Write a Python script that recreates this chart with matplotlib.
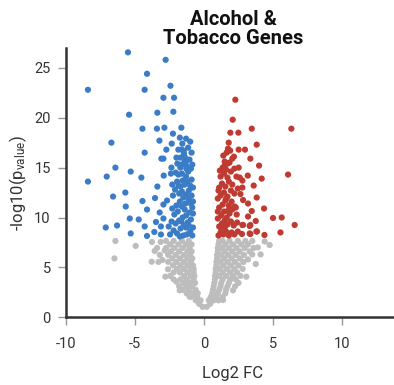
import matplotlib
matplotlib.use("Agg")
import matplotlib.pyplot as plt
import numpy as np

plt.rcParams['font.family'] = ['Roboto', 'DejaVu Sans']
plt.rcParams['mathtext.default'] = 'regular'

title = "Alcohol &\nTobacco Genes"
x_label = "Log2 FC"
y_label = r"-log10(p$_{value}$)"
x_ticks = [-10, -5, 0, 5, 10]
y_ticks = [0, 5, 10, 15, 20, 25]

# Down-regulated (significant) genes: (log2FC, -log10 p)
blue_pts = [
    (-5.51, 26.55), (-2.78, 25.8), (-4.13, 24.4), (-8.41, 22.8), (-2.43, 23.2), (-4.30, 22.8),
    (-2.94, 22.0), (-2.17, 22.0), (-3.38, 20.5), (-2.22, 20.6), (-5.43, 20.3), (-4.46, 18.9),
    (-3.41, 18.9), (-2.87, 19.0), (-1.64, 19.0), (-2.25, 18.4), (-6.71, 17.5), (-3.23, 17.7),
    (-2.34, 17.4), (-1.57, 17.4), (-2.73, 16.8), (-1.86, 16.8), (-1.62, 16.8), (-1.47, 16.7),
    (-4.30, 16.5), (-1.45, 16.4), (-3.09, 15.9), (-2.94, 15.9), (-2.0, 16.0), (-1.71, 16.0),
    (-1.37, 16.0), (-1.28, 15.7), (-1.93, 15.4), (-1.62, 15.3), (-1.28, 15.2), (-6.42, 15.0),
    (-5.31, 14.6), (-2.36, 15.0), (-1.71, 15.0), (-1.28, 14.9), (-7.05, 14.1), (-4.54, 14.0),
    (-2.92, 14.2), (-2.4, 14.4), (-1.85, 14.3), (-1.6, 14.4), (-1.3, 14.1),
    (-8.41, 13.6), (-6.59, 12.1), (-5.70, 12.5), (-3.38, 13.1), (-4.46, 11.65), (-3.55, 11.95),
    (-5.67, 11.1), (-4.13, 10.8), (-2.94, 11.3), (-2.68, 11.7), (-3.21, 10.5), (-5.38, 9.9),
    (-4.73, 9.8), (-3.48, 9.55), (-2.94, 9.9), (-7.12, 9.0), (-6.30, 9.2), (-4.30, 9.1),
    (-3.12, 9.1), (-2.56, 9.1), (-5.31, 8.4), (-4.13, 8.15), (-3.60, 8.55), (-3.12, 8.3),
    (-2.46, 8.3),
    (-2.3, 13.3), (-2.1, 12.8), (-2.25, 12.2), (-1.95, 13.6), (-1.8, 12.4), (-1.7, 13.1),
    (-1.55, 13.7), (-1.4, 13.3), (-1.2, 13.6), (-1.0, 13.2), (-0.9, 13.8), (-1.1, 12.7),
    (-1.3, 12.3), (-1.5, 12.0), (-1.75, 11.6), (-2.0, 11.2), (-2.3, 10.9), (-2.15, 10.3),
    (-1.9, 10.6), (-1.6, 11.1), (-1.35, 11.4), (-1.1, 11.8), (-0.9, 12.2), (-0.85, 11.0),
    (-1.05, 10.5), (-1.3, 10.2), (-1.55, 10.0), (-1.8, 9.7), (-2.05, 9.4), (-2.35, 9.6),
    (-2.2, 8.7), (-1.95, 8.4), (-1.7, 8.9), (-1.45, 9.2), (-1.2, 9.5), (-0.95, 9.8),
    (-0.8, 9.0), (-1.0, 8.6), (-1.25, 8.3), (-1.5, 8.2), (-1.75, 8.1), (-0.85, 8.2),
    (-1.15, 14.6), (-0.95, 14.9), (-1.05, 15.8), (-0.9, 16.5), (-1.15, 17.0), (-1.0, 17.6),
    (-1.3, 17.9), (-1.75, 18.0), (-0.85, 15.3), (-1.4, 15.6), (-0.8, 13.0), (-0.8, 10.4),
    (-0.8, 11.6), (-1.65, 9.6), (-1.4, 10.8), (-1.85, 13.2), (-2.05, 14.5), (-1.15, 12.0),
    (-1.6, 12.6), (-0.95, 11.4), (-1.3, 9.0), (-1.1, 9.2),
]

# Up-regulated (significant) genes
red_pts = [
    (2.27, 21.8), (2.08, 19.8), (1.91, 18.5), (2.49, 18.5), (3.46, 18.9), (6.33, 18.9),
    (1.79, 17.5), (3.82, 17.3), (1.74, 16.9), (2.51, 16.8), (2.97, 16.8), (1.64, 16.5),
    (2.17, 16.1), (3.36, 15.9), (1.5, 15.6), (1.7, 15.4), (1.5, 15.2), (3.99, 15.2),
    (2.51, 15.0), (6.09, 14.3), (3.17, 14.2), (4.18, 13.9), (2.59, 14.0), (2.78, 13.7),
    (3.60, 13.2), (3.82, 12.0), (2.83, 11.75), (3.19, 11.4), (4.35, 10.9), (3.46, 10.65),
    (5.0, 9.95), (5.63, 10.0), (6.57, 9.25), (5.54, 8.5), (4.38, 8.25), (3.80, 8.6),
    (3.36, 8.35), (2.75, 8.35), (3.36, 9.25), (3.75, 9.65), (2.83, 9.25), (3.19, 10.1),
    (2.64, 12.35), (2.78, 13.0), (2.22, 11.1), (2.37, 10.3), (3.31, 8.4), (3.84, 8.6),
    (2.78, 9.25), (3.31, 9.15),
    (1.05, 8.2), (1.2, 8.5), (1.4, 8.3), (1.6, 8.6), (1.8, 8.2), (2.0, 8.5), (2.2, 8.3),
    (2.45, 8.6), (1.1, 9.1), (1.3, 9.4), (1.5, 9.0), (1.7, 9.3), (1.95, 9.6), (2.15, 9.2),
    (2.4, 9.5), (1.0, 9.9), (1.25, 10.2), (1.45, 10.6), (1.65, 10.0), (1.85, 10.4),
    (2.05, 10.8), (1.1, 11.0), (1.35, 11.3), (1.55, 11.7), (1.8, 11.2), (2.0, 11.6),
    (1.0, 11.9), (1.2, 12.2), (1.45, 12.5), (1.7, 12.1), (1.95, 12.7), (2.2, 12.4),
    (1.1, 13.0), (1.3, 13.4), (1.55, 13.1), (1.8, 13.6), (2.05, 13.3), (1.2, 14.1),
    (1.45, 14.4), (1.7, 14.0), (1.95, 14.6), (2.2, 14.9), (1.35, 15.0), (1.6, 14.8),
    (1.85, 15.5), (2.05, 15.9), (1.4, 16.2), (1.9, 16.7), (1.0, 10.6), (1.05, 12.7),
    (1.15, 14.7), (1.25, 8.9), (1.5, 9.7), (1.75, 10.7), (2.3, 11.0), (2.45, 12.9),
    (2.35, 14.1), (1.6, 11.9),
]

# Non-significant genes
gray_pts = [
    (-6.42, 7.65), (-4.95, 7.15), (-6.49, 5.9), (-3.77, 7.55), (-3.14, 7.55), (-3.57, 6.65),
    (-3.79, 5.57), (-3.01, 5.74), (-2.80, 4.07), (-2.61, 4.81), (-2.85, 6.7),
    (-2.0, 3.57), (-1.04, 2.07), (-1.76, 2.7),
    (4.76, 7.24), (3.75, 5.34), (3.19, 5.8), (3.07, 4.07), (2.1, 2.7),
    (1.38, 1.73), (4.4, 7.6), (3.9, 7.0), (4.1, 6.3),
    (-0.1, 1.05), (0.2, 1.05),
    (-0.35, 1.35), (0.45, 1.35),
    (-0.6, 1.7), (-0.25, 1.7), (0.35, 1.7), (0.7, 1.7), (1.05, 1.7),
    (-0.95, 2.05), (-0.5, 2.05), (0.5, 2.05), (0.9, 2.05), (1.35, 2.05),
    (-1.25, 2.4), (-0.8, 2.4), (-0.45, 2.4), (0.6, 2.4), (1.0, 2.4), (1.55, 2.4),
    (-1.55, 2.75), (-1.1, 2.75), (-0.6, 2.75), (0.65, 2.75), (1.1, 2.75), (1.6, 2.75),
    (-1.8, 3.1), (-1.3, 3.1), (-0.85, 3.1), (0.7, 3.1), (1.2, 3.1), (1.7, 3.1), (2.25, 3.1),
    (-1.5, 3.45), (-1.05, 3.45), (-0.65, 3.45), (0.75, 3.45), (1.25, 3.45), (1.8, 3.45),
    (2.5, 3.45),
    (-2.2, 3.8), (-1.7, 3.8), (-1.25, 3.8), (-0.75, 3.8), (0.8, 3.8), (1.35, 3.8), (1.9, 3.8),
    (2.3, 3.8),
    (-2.45, 4.15), (-1.45, 4.15), (-0.95, 4.15), (-0.7, 4.15), (0.8, 4.15), (1.1, 4.15),
    (1.6, 4.15), (2.1, 4.15), (2.65, 4.15),
    (-2.2, 4.5), (-1.75, 4.5), (-1.2, 4.5), (-0.75, 4.5), (0.85, 4.5), (1.35, 4.5), (1.9, 4.5),
    (2.4, 4.5),
    (-1.95, 4.85), (-1.45, 4.85), (-0.95, 4.85), (-0.75, 4.85), (0.85, 4.85), (1.15, 4.85),
    (1.65, 4.85), (2.2, 4.85), (2.8, 4.85),
    (-2.25, 5.2), (-1.7, 5.2), (-1.2, 5.2), (-0.8, 5.2), (0.9, 5.2), (1.4, 5.2), (1.95, 5.2),
    (2.5, 5.2),
    (-3.3, 5.55), (-2.6, 5.55), (-2.0, 5.55), (-1.45, 5.55), (-0.95, 5.55), (0.9, 5.55),
    (1.2, 5.55), (1.7, 5.55), (2.25, 5.55), (2.85, 5.55),
    (-2.3, 5.9), (-1.75, 5.9), (-1.2, 5.9), (-0.85, 5.9), (0.95, 5.9), (1.45, 5.9), (2.0, 5.9),
    (2.6, 5.9), (3.5, 6.3),
    (-3.2, 6.25), (-2.6, 6.25), (-2.05, 6.25), (-1.45, 6.25), (-1.0, 6.25), (0.95, 6.25),
    (1.25, 6.25), (1.75, 6.25), (2.3, 6.25), (2.9, 6.25),
    (-2.4, 6.6), (-1.8, 6.6), (-1.2, 6.6), (-0.9, 6.6), (1.0, 6.6), (1.5, 6.6), (2.05, 6.6),
    (2.6, 6.6), (3.3, 6.6),
    (-3.4, 6.95), (-2.75, 6.95), (-2.15, 6.95), (-1.55, 6.95), (-1.05, 6.95), (1.0, 6.95),
    (1.3, 6.95), (1.8, 6.95), (2.35, 6.95), (2.95, 6.95), (3.6, 6.95),
    (-2.45, 7.3), (-1.85, 7.3), (-1.3, 7.3), (-0.9, 7.3), (1.05, 7.3), (1.55, 7.3), (2.1, 7.3),
    (2.7, 7.3), (3.2, 7.3),
    (-2.75, 7.65), (-2.2, 7.65), (-1.6, 7.65), (-1.1, 7.65), (1.1, 7.65), (1.35, 7.65),
    (1.85, 7.65), (2.45, 7.65), (3.0, 7.65), (3.5, 7.65),
]

gray_color = "#BDBDBD"
blue_color = "#3A7DC6"
red_color = "#BF3A31"

W, H = 394, 385
fig = plt.figure(figsize=(W / 100, H / 100), dpi=100)
x0, x1 = 66, 400
y_bottom, y_top = 317.3, 48
ax = fig.add_axes([x0 / W, (H - y_bottom) / H, (x1 - x0) / W, (y_bottom - y_top) / H])

for pts, col, z in [(gray_pts, gray_color, 2), (blue_pts, blue_color, 3), (red_pts, red_color, 3)]:
    arr = np.array(pts)
    ax.scatter(arr[:, 0], arr[:, 1], s=20, color=col, edgecolors='none', zorder=z, clip_on=False)

ax.set_xlim(-10, -10 + (x1 - x0) / 13.8)
ax.set_ylim(0, (y_bottom - y_top) / 9.98)
ax.set_xticks(x_ticks)
ax.set_yticks(y_ticks)
ax.set_xticklabels([str(t) for t in x_ticks])
ax.set_yticklabels([str(t) for t in y_ticks])

for s in ['top', 'right']:
    ax.spines[s].set_visible(False)
for s in ['left', 'bottom']:
    ax.spines[s].set_color('#333333')
    ax.spines[s].set_linewidth(1.8)
ax.tick_params(axis='both', direction='out', length=6, width=1, color='#999999',
               labelsize=10.5, labelcolor='#333333')
ax.tick_params(axis='x', pad=8)
ax.tick_params(axis='y', pad=5)

ax.set_xlabel(x_label, fontsize=12, color='#333333', labelpad=11)
ax.set_ylabel(y_label, fontsize=12, color='#333333', labelpad=4)
ax.set_title(title, fontsize=14.5, fontweight='bold', color='#111111', linespacing=1.0, pad=2)

fig.savefig("out.png", dpi=100)
